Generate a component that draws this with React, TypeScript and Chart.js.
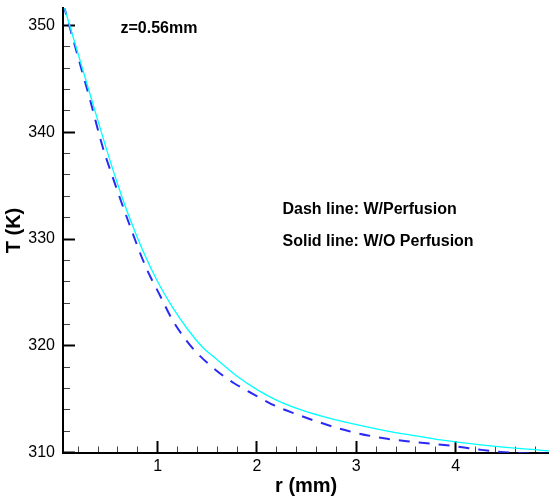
import React, { useEffect, useRef } from "react";
import { Chart, registerables } from "chart.js";

Chart.register(...registerables);

// r (mm) and T (K) for the solid line (W/O perfusion)
const solidR = [0.05, 0.2, 0.34, 0.49, 0.6, 0.71, 0.85, 1.0, 1.15, 1.3, 1.45, 1.6, 1.8, 2.0, 2.2, 2.43, 2.65, 2.9, 3.3, 3.62, 3.85, 4.3, 4.94];
const solidT = [352.0, 347.3, 342.9, 338.25, 335.06, 332.15, 328.93, 326.0, 323.6, 321.58, 319.9, 318.7, 317.15, 315.9, 314.9, 314.05, 313.42, 312.83, 312.05, 311.55, 311.2, 310.68, 310.17];

// r (mm) and T (K) for the dashed line (W/ perfusion)
const dashR = [0.05, 0.2, 0.32, 0.45, 0.51, 0.73, 0.88, 1.03, 1.15, 1.29, 1.4, 1.59, 1.77, 1.98, 2.18, 2.4, 2.61, 2.93, 3.31, 3.59, 4.0, 4.23, 4.45, 4.94];
const dashT = [352.0, 347.0, 343.0, 338.5, 336.8, 331.0, 327.4, 324.6, 322.4, 320.5, 319.3, 317.7, 316.5, 315.4, 314.4, 313.6, 312.9, 312.0, 311.3, 311.0, 310.6, 310.3, 310.07, 309.9];

const xRange = [0.05, 4.94];
const yRange = [310, 351.6];
const xStep = 0.2;
const yStep = 2;
const xMajorEvery = 1;
const yMajorEvery = 10;

const annotations = [
  { text: "z=0.56mm", x: 120.5, y: 29 },
  { text: "Dash line: W/Perfusion", x: 282.5, y: 209.5 },
  { text: "Solid line: W/O Perfusion", x: 282.5, y: 241.5 },
];

const FONT = '"Liberation Sans", Arial, Helvetica, sans-serif';

const isMajor = (v: number, every: number) => {
  const q = v / every;
  return Math.abs(q - Math.round(q)) < 1e-6;
};

const zeroPad = (s: any) => {
  s.paddingTop = 0;
  s.paddingBottom = 0;
  s.paddingLeft = 0;
  s.paddingRight = 0;
};

export default function App() {
  const ref = useRef<HTMLCanvasElement | null>(null);

  useEffect(() => {
    if (!ref.current) return;
    const textPlugin = {
      id: "annot",
      afterDraw(chart: any) {
        const ctx = chart.ctx;
        ctx.save();
        ctx.fillStyle = "#000";
        ctx.font = `bold 16px ${FONT}`;
        ctx.textBaseline = "middle";
        ctx.textAlign = "left";
        annotations.forEach((a) => ctx.fillText(a.text, a.x, a.y));
        ctx.restore();
      },
    };

    const chart = new Chart(ref.current, {
      type: "line",
      data: {
        datasets: [
          {
            label: "W/O Perfusion",
            data: solidR.map((r, i) => ({ x: r, y: solidT[i] })),
            borderColor: "#00ffff",
            borderWidth: 1.3,
            pointRadius: 0,
            cubicInterpolationMode: "monotone",
            fill: false,
          },
          {
            label: "W/Perfusion",
            data: dashR.map((r, i) => ({ x: r, y: dashT[i] })),
            borderColor: "#2a2af5",
            borderWidth: 2,
            borderDash: [11, 9],
            pointRadius: 0,
            cubicInterpolationMode: "monotone",
            fill: false,
          },
        ],
      },
      options: {
        animation: false,
        responsive: false,
        maintainAspectRatio: false,
        layout: { padding: { top: 8.3, right: 0, left: 0, bottom: 0 } },
        plugins: { legend: { display: false }, tooltip: { enabled: false } },
        scales: {
          x: {
            type: "linear",
            min: xRange[0],
            max: xRange[1],
            afterFit: (s: any) => {
              s.height = 43.3;
              zeroPad(s);
            },
            ticks: {
              stepSize: xStep,
              includeBounds: false,
              autoSkip: false,
              maxRotation: 0,
              padding: 16.2,
              color: "#000",
              font: { family: FONT, size: 16 },
              callback: (v: any) => (isMajor(Number(v), xMajorEvery) ? String(Math.round(Number(v))) : ""),
            },
            grid: {
              drawOnChartArea: false,
              drawTicks: true,
              tickLength: -11.7,
              tickWidth: (c: any) => (isMajor(c.tick.value, xMajorEvery) ? 2 : 1),
              tickColor: (c: any) => (isMajor(c.tick.value, xMajorEvery) ? "#000" : "#444"),
              tickBorderDash: (c: any) => (isMajor(c.tick.value, xMajorEvery) ? [] : [7.5, 100]),
            },
            border: { display: true, color: "#000", width: 2 },
            title: {
              display: true,
              text: "r (mm)",
              color: "#000",
              font: { family: FONT, size: 20, weight: "bold", lineHeight: 1 },
              padding: { top: 0, bottom: 0 },
            },
          },
          y: {
            type: "linear",
            min: yRange[0],
            max: yRange[1],
            afterFit: (s: any) => {
              s.width = 63.3;
              zeroPad(s);
            },
            ticks: {
              stepSize: yStep,
              includeBounds: false,
              autoSkip: false,
              padding: 20,
              color: "#000",
              font: { family: FONT, size: 16 },
              callback: (v: any) => (isMajor(Number(v), yMajorEvery) ? String(Math.round(Number(v))) : ""),
            },
            grid: {
              drawOnChartArea: false,
              drawTicks: true,
              tickLength: -11.7,
              tickWidth: (c: any) => (isMajor(c.tick.value, yMajorEvery) ? 2 : 1),
              tickColor: (c: any) => (isMajor(c.tick.value, yMajorEvery) ? "#000" : "#444"),
              tickBorderDash: (c: any) => (isMajor(c.tick.value, yMajorEvery) ? [] : [0, 5, 100, 0]),
            },
            border: { display: true, color: "#000", width: 2 },
            title: {
              display: true,
              text: "T (K)",
              color: "#000",
              font: { family: FONT, size: 20, weight: "bold", lineHeight: 1 },
              padding: { top: 4, bottom: 0 },
            },
          },
        },
      },
      plugins: [textPlugin],
    } as any);
    return () => chart.destroy();
  }, []);

  return (
    <div style={{ position: "absolute", left: 0, top: 0, width: 549, height: 496, background: "#fff" }}>
      <canvas ref={ref} width={549} height={496} style={{ display: "block" }} />
    </div>
  );
}
